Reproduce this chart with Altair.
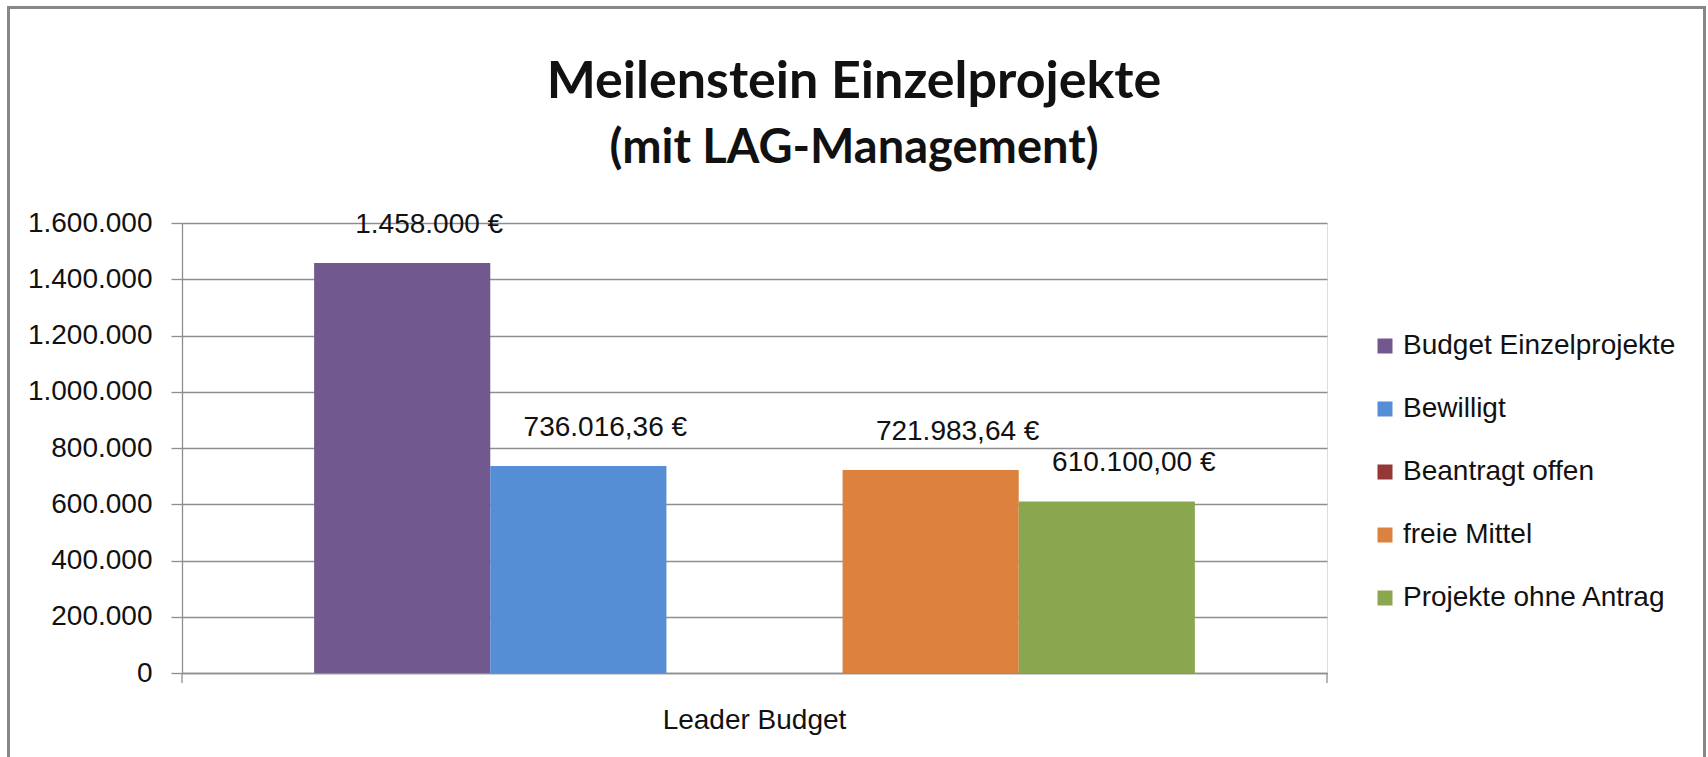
import altair as alt
import pandas as pd

# ---- data ----
group_name = "Leader Budget"
categories = ["Budget Einzelprojekte", "Bewilligt", "Beantragt offen", "freie Mittel", "Projekte ohne Antrag"]
values = [1458000.00, 736016.36, 0.00, 721983.64, 610100.00]
value_labels = ["1.458.000 €", "736.016,36 €", "", "721.983,64 €", "610.100,00 €"]
colors = ["#71588F", "#558ED5", "#953735", "#DC823E", "#8AA64F"]
y_ticks = [0, 200000, 400000, 600000, 800000, 1000000, 1200000, 1400000, 1600000]
title_lines = ["Meilenstein Einzelprojekte", "(mit LAG-Management)"]

df = pd.DataFrame({
    "Gruppe": [group_name] * len(categories),
    "Reihe": categories,
    "Wert": values,
    "Label": value_labels,
})

W, H = 1145, 450
FONT = "Liberation Sans"
TITLE_FONT = "Lato"
GRID = "#8E8E8E"
TXT = "#111111"

x_enc = alt.X(
    "Gruppe:N", title=None,
    scale=alt.Scale(paddingInner=0, paddingOuter=0.15),
    axis=alt.Axis(labelAngle=0, ticks=False, domain=True, domainColor=GRID, domainWidth=1.3,
                  labelFont=FONT, labelFontSize=28, labelColor=TXT, labelPadding=33,
                  labelLimit=600, grid=False),
)
xoff_enc = alt.XOffset("Reihe:N", sort=categories,
                       scale=alt.Scale(domain=categories, paddingInner=0, paddingOuter=0))
y_enc = alt.Y(
    "Wert:Q", title=None,
    scale=alt.Scale(domain=[0, 1600000], nice=False),
    axis=alt.Axis(values=y_ticks, grid=True, gridColor=GRID, gridWidth=1.3,
                  domain=True, domainColor=GRID, domainWidth=1.3,
                  ticks=True, tickSize=11, tickColor=GRID, tickWidth=1.3,
                  labelFont=FONT, labelFontSize=28, labelColor=TXT, labelPadding=19,
                  labelExpr="replace(format(datum.value, ',d'), /,/g, '.')"),
)

bars = alt.Chart(df).mark_bar().encode(
    x=x_enc,
    xOffset=xoff_enc,
    y=y_enc,
    color=alt.Color(
        "Reihe:N", sort=categories,
        scale=alt.Scale(domain=categories, range=colors),
        legend=alt.Legend(orient="none", legendX=1189, legendY=109, title=None,
                          symbolType="square", symbolSize=225, symbolStrokeWidth=0,
                          labelFont=FONT, labelFontSize=28, labelColor=TXT,
                          labelOffset=4, rowPadding=35, labelLimit=500, padding=0),
    ),
)

labels = alt.Chart(df).transform_filter("datum.Label != ''").mark_text(
    font=FONT, fontSize=28, color=TXT, dx=27, dy=-38, baseline="middle", align="center"
).encode(x=x_enc, xOffset=xoff_enc, y=y_enc, text="Label:N")

one = alt.Data(values=[{}])
tick_left = alt.Chart(one).mark_rule(color=GRID, strokeWidth=1.3).encode(
    x=alt.value(0), y=alt.value(H), y2=alt.value(H + 10))
tick_right = alt.Chart(one).mark_rule(color=GRID, strokeWidth=1.3).encode(
    x=alt.value(W), y=alt.value(H), y2=alt.value(H + 10))
frame = alt.Chart(one).mark_rect(fillOpacity=0, stroke="#888888", strokeWidth=3).encode(
    x=alt.value(-173.5), x2=alt.value(1522.5), y=alt.value(-215.5), y2=alt.value(600))

title1 = alt.Chart(one).mark_text(
    font=TITLE_FONT, fontSize=52, fontWeight="bold", color=TXT, align="center", baseline="alphabetic"
).encode(x=alt.value(672), y=alt.value(-125), text=alt.value(title_lines[0]))
title2 = alt.Chart(one).mark_text(
    font=TITLE_FONT, fontSize=47, fontWeight="bold", color=TXT, align="center", baseline="alphabetic"
).encode(x=alt.value(672), y=alt.value(-60), text=alt.value(title_lines[1]))

chart = alt.layer(frame, bars, labels, tick_left, tick_right, title1, title2).properties(
    width=W, height=H,
    autosize=alt.AutoSizeParams(type="none"),
    padding={"left": 182, "top": 223, "right": 1708 - 182 - W, "bottom": 757 - 223 - H},
).configure_view(stroke=None).configure(background="white")

chart.save("out.html", embed_options={"renderer": "svg", "actions": False})
